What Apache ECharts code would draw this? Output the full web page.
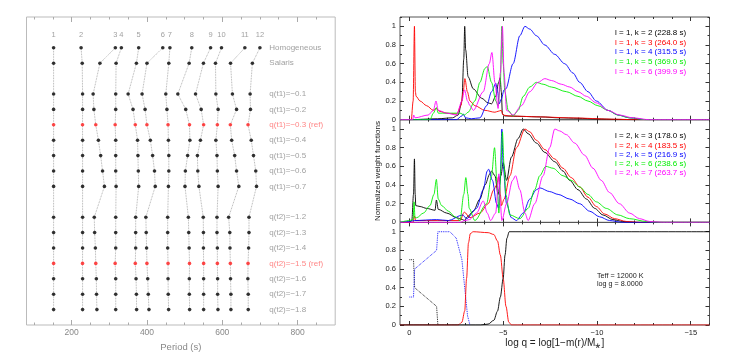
<!DOCTYPE html>
<html><head><meta charset="utf-8">
<script src="https://cdn.jsdelivr.net/npm/echarts@6/dist/echarts.min.js"></script>
<style>html,body{margin:0;padding:0;background:#fff}#c{width:734px;height:358px}</style>
</head><body><div id="c"></div>
<script>
// ---------------- LEFT PANEL DATA ----------------
const modeNumbers = ['1','2','3','4','5','6','7','8','9','10','11','12'];
const rowNames = ['Homogeneous','Salaris','q(t1)=−0.1','q(t1)=−0.2','q(t1)=−0.3 (ref)','q(t1)=−0.4','q(t1)=−0.5','q(t1)=−0.6','q(t1)=−0.7',
  'q(t2)=−1.2','q(t2)=−1.3','q(t2)=−1.4','q(t2)=−1.5 (ref)','q(t2)=−1.6','q(t2)=−1.7','q(t2)=−1.8'];
const rowPos = [0,1,3,4,5,6,7,8,9,11,12,13,14,15,16,17];
const refRowNames = ['q(t1)=−0.3 (ref)','q(t2)=−1.5 (ref)'];
const pHomogeneous = [152,225,316,332,378,442,461,519,569,598,660,700];
const pSalaris     = [152,228,275,318,372,400,458,512,550,582,622,680];
const pT1_01 = [152,229,257,317,350,387,450,482,529,583,627,674];
const pT1_02 = [152,229,259,317,363,395,453,503,544,589,638,675];
const pRef   = [152,228.8,264.0,315.5,369.0,399.9,456,513,550.5,587,621.5,668.5];
const pT1_04 = [152,229,271,317,375,409,457,514,542,583,625,677];
const pT1_05 = [152,229,277,317,376,415,458,508,534,586,633,683];
const pT1_06 = [152,229,282,317,377,420,458,502,535,587,638,689];
const pT1_07 = [152,229,287,318,378,422,457,501,538,589,644,691];
const pT2_12 = [152,229,260,317,370,397,455,510,549.5,586,617,671];
const pT2_13 = [152,229,261,317,370,398,455,511,550,586,620,671];
const pT2_14 = [152,229,263,317,370,399,455,512,550,587,620.5,670];
const pT2_16 = [152,229,265.5,317,371,402,456,512.5,550.5,587.7,622,668];
const pT2_17 = [152,229,266,317,372,403.5,456.5,512.5,550.5,587.7,623,669];
const pT2_18 = [152,229,267,317,372.5,405.3,457.5,513.3,550.5,588.6,623,669];
const rowPeriods = [pHomogeneous,pSalaris,pT1_01,pT1_02,pRef,pT1_04,pT1_05,pT1_06,pT1_07,pT2_12,pT2_13,pT2_14,pRef,pT2_16,pT2_17,pT2_18];
const periodTicksMajor = [200,400,600,800];
const periodTicksMinor = [100,150,250,300,350,450,500,550,650,700,750,850];
const modeLabelRow = -0.85;
const rowLabelPeriod = 725;

// ---------------- RIGHT PANEL DATA ----------------
const legendTop = ['l = 1, k = 2 (228.8 s)','l = 1, k = 3 (264.0 s)','l = 1, k = 4 (315.5 s)','l = 1, k = 5 (369.0 s)','l = 1, k = 6 (399.9 s)'];
const legendMid = ['l = 2, k = 3 (178.0 s)','l = 2, k = 4 (183.5 s)','l = 2, k = 5 (216.9 s)','l = 2, k = 6 (238.6 s)','l = 2, k = 7 (263.7 s)'];
const curveColors = ['#000000','#ff0000','#0000ff','#00ee00','#ff00ff'];
const wTop_k2 = [[0.5,0],[0,0],[-1.5,0.01],[-2.3,0.02],[-2.6,0.05],[-2.8,0.2],[-2.9,0.65],[-2.95,1.0],[-3.0,0.75],[-3.13,0.46],[-3.41,0.33],[-3.85,0.23],[-4.2,0.18],[-4.38,0.17],[-4.6,0.25],[-4.76,0.4],[-4.84,0.45],[-4.9,0.3],[-4.96,0.06],[-5.1,0.04],[-6,0.035],[-7,0.03],[-8,0.02],[-9,0.015],[-10,0.008],[-11,0.003],[-12,0],[-16,0]];
const wTop_k3 = [[0.5,0],[-0.1,0],[-0.2,0.2],[-0.27,1.0],[-0.32,0.3],[-0.36,0.25],[-0.57,0.2],[-0.92,0.15],[-1.28,0.1],[-1.44,0.12],[-1.6,0.09],[-1.99,0.07],[-2.52,0.06],[-2.75,0.15],[-2.87,0.3],[-2.96,0.44],[-3.09,0.3],[-3.23,0.2],[-3.49,0.15],[-4.03,0.1],[-4.56,0.08],[-4.73,0.09],[-4.9,0.1],[-5.0,0.05],[-5.3,0.04],[-7,0.03],[-8.5,0.02],[-11,0.005],[-12,0],[-16,0]];
const wTop_k4 = [[0.5,0],[-2.5,0],[-2.8,0.04],[-2.87,0.06],[-3.0,0.02],[-3.3,0.01],[-3.76,0.02],[-4.12,0.15],[-4.38,0.3],[-4.61,0.39],[-4.7,0.3],[-4.79,0.17],[-4.9,0.22],[-5.05,0.32],[-5.14,0.33],[-5.53,0.6],[-5.89,0.9],[-6.16,1.0],[-6.42,0.97],[-6.77,0.9],[-7.22,0.8],[-7.75,0.7],[-8.28,0.6],[-8.72,0.5],[-9.08,0.4],[-9.52,0.3],[-9.97,0.2],[-10.59,0.1],[-11.12,0.05],[-11.74,0.02],[-12.62,0],[-16,0]];
const wTop_k5 = [[0.5,0],[-1.1,0],[-1.28,0.07],[-1.44,0.13],[-1.54,0.07],[-2.0,0.07],[-2.7,0.07],[-2.93,0.05],[-3.13,0.08],[-3.49,0.2],[-3.76,0.4],[-4.03,0.55],[-4.15,0.57],[-4.38,0.4],[-4.61,0.2],[-4.73,0.15],[-4.85,0.4],[-4.93,1.0],[-5.0,0.6],[-5.09,0.3],[-5.27,0.1],[-5.53,0.04],[-5.8,0.1],[-6.07,0.25],[-6.42,0.35],[-6.77,0.4],[-7.13,0.38],[-7.57,0.35],[-8.37,0.3],[-8.99,0.25],[-9.52,0.2],[-10.05,0.15],[-10.59,0.1],[-11.12,0.05],[-11.74,0.02],[-12.62,0],[-16,0]];
const wTop_k6 = [[0.5,0],[-0.18,0],[-0.23,0.05],[-0.3,0.02],[-1.0,0.05],[-1.28,0.1],[-1.42,0.2],[-1.54,0.1],[-1.99,0.07],[-2.52,0.05],[-2.8,0.2],[-2.94,0.32],[-3.1,0.2],[-3.23,0.15],[-3.41,0.1],[-3.94,0.3],[-4.26,0.6],[-4.4,0.72],[-4.56,0.4],[-4.73,0.12],[-4.85,0.5],[-4.96,1.0],[-5.05,0.5],[-5.18,0.1],[-5.53,0.05],[-5.97,0.15],[-6.42,0.3],[-6.86,0.4],[-7.22,0.44],[-7.57,0.42],[-8.1,0.38],[-8.55,0.35],[-8.99,0.3],[-9.44,0.25],[-9.97,0.18],[-10.59,0.1],[-11.2,0.05],[-11.91,0.02],[-12.8,0],[-16,0]];
const wMid_k3 = [[0.5,0],[0,0],[-0.13,0.02],[-0.22,0.3],[-0.27,0.68],[-0.31,0.3],[-0.34,0.18],[-0.57,0.17],[-0.92,0.15],[-1.37,0.13],[-1.44,0.24],[-1.54,0.14],[-1.99,0.1],[-2.52,0.05],[-2.84,0.03],[-2.93,0.02],[-3.09,0.06],[-3.41,0.12],[-3.76,0.25],[-4.03,0.4],[-4.29,0.52],[-4.38,0.55],[-4.56,0.5],[-4.73,0.3],[-4.88,0.5],[-5.0,0.64],[-5.18,0.45],[-5.44,0.7],[-5.8,0.9],[-6.07,1.0],[-6.33,0.95],[-6.77,0.85],[-7.22,0.75],[-7.75,0.65],[-8.19,0.55],[-8.55,0.45],[-8.99,0.35],[-9.44,0.25],[-9.88,0.15],[-10.32,0.08],[-10.85,0.03],[-11.38,0.01],[-12.09,0],[-16,0]];
const wMid_k4 = [[0.5,0],[-0.2,0],[-0.27,0.07],[-0.34,0.02],[-2.7,0.02],[-2.93,0.11],[-3.23,0.05],[-3.76,0.1],[-4.2,0.2],[-4.5,0.35],[-4.65,0.4],[-4.76,0.49],[-4.85,0.3],[-4.91,0.18],[-5.05,0.25],[-5.36,0.5],[-5.71,0.8],[-6.16,1.0],[-6.42,0.97],[-6.77,0.88],[-7.22,0.78],[-7.75,0.68],[-8.19,0.58],[-8.63,0.48],[-9.08,0.38],[-9.52,0.27],[-9.97,0.17],[-10.41,0.09],[-10.94,0.04],[-11.56,0.01],[-12.27,0],[-16,0]];
const wMid_k5 = [[0.5,0],[0,0.01],[-0.27,0.02],[-1.45,0.03],[-2.08,0.02],[-2.84,0.08],[-3.05,0.04],[-3.58,0.15],[-3.94,0.35],[-4.15,0.55],[-4.22,0.57],[-4.43,0.45],[-4.65,0.2],[-4.76,0.15],[-4.85,0.5],[-4.93,1.0],[-5.0,0.6],[-5.18,0.2],[-5.44,0.05],[-5.71,0.02],[-6.07,0.1],[-6.42,0.25],[-6.77,0.35],[-6.95,0.37],[-7.48,0.33],[-7.93,0.3],[-8.55,0.25],[-9.08,0.2],[-9.61,0.12],[-10.14,0.06],[-10.67,0.02],[-11.38,0],[-16,0]];
const wMid_k6 = [[0.5,0],[0,0.02],[-0.2,0.03],[-0.25,0.22],[-0.3,0.05],[-0.39,0.05],[-0.75,0.1],[-1.1,0.18],[-1.31,0.3],[-1.44,0.46],[-1.54,0.25],[-1.72,0.18],[-2.08,0.12],[-2.43,0.06],[-2.7,0.02],[-2.9,0.3],[-3.01,0.48],[-3.12,0.3],[-3.19,0.15],[-3.49,0.02],[-4.12,0.2],[-4.38,0.5],[-4.54,0.8],[-4.68,0.4],[-4.77,0.1],[-4.88,0.6],[-4.96,0.97],[-5.05,0.6],[-5.14,0.3],[-5.36,0.08],[-5.89,0.04],[-6.33,0.15],[-6.68,0.35],[-6.95,0.5],[-7.27,0.6],[-7.66,0.58],[-8.19,0.5],[-8.63,0.45],[-9.08,0.38],[-9.52,0.3],[-9.97,0.22],[-10.5,0.15],[-11.12,0.08],[-11.74,0.04],[-12.62,0.01],[-13.33,0],[-16,0]];
const wMid_k7 = [[0.5,0],[-2.7,0],[-2.96,0.02],[-3.2,0.03],[-3.58,0.1],[-3.94,0.23],[-4.15,0.1],[-4.33,0.02],[-4.6,0.1],[-4.77,0.52],[-4.85,0.2],[-4.93,0.02],[-5.18,0.2],[-5.5,0.45],[-5.66,0.5],[-5.89,0.35],[-6.16,0.1],[-6.33,0.02],[-6.68,0.2],[-7.13,0.5],[-7.48,0.8],[-7.75,1.0],[-8.01,0.98],[-8.37,0.94],[-8.81,0.85],[-9.34,0.72],[-9.79,0.58],[-10.23,0.45],[-10.67,0.32],[-11.2,0.2],[-11.74,0.1],[-12.27,0.04],[-12.8,0.01],[-13.51,0],[-16,0]];
const xC  = [[0,0.7],[-0.22,0.7],[-0.28,0.4],[-1.45,0.2],[-1.52,0]];
const xO  = [[0,0.3],[-0.22,0.3],[-0.28,0.6],[-1.45,0.8],[-1.52,1.0],[-2.16,1.0],[-2.5,0.93],[-2.8,0.7],[-2.95,0.4],[-3.1,0.1],[-3.23,0]];
const xHe = [[0.5,0],[-2.6,0],[-2.8,0.03],[-2.95,0.15],[-3.05,0.5],[-3.15,0.88],[-3.25,0.98],[-3.4,1.0],[-4.2,0.99],[-4.5,0.97],[-4.7,0.9],[-4.85,0.75],[-5.0,0.5],[-5.15,0.2],[-5.3,0.03],[-5.45,0],[-16,0]];
const xH  = [[0.5,0],[-3.8,0],[-4.2,0.01],[-4.5,0.05],[-4.7,0.15],[-4.85,0.3],[-5.0,0.5],[-5.1,0.75],[-5.2,0.93],[-5.32,1.0],[-16,1.0]];
const starText = ['Teff = 12000 K','log g = 8.0000'];
const logqTicksMajor = [0,-5,-10,-15];
const logqTicksMinor = [-1,-2,-3,-4,-6,-7,-8,-9,-11,-12,-13,-14,-16];
const wTicksMajor = [0,0.2,0.4,0.6,0.8,1];
const wTicksMinor = [0.1,0.3,0.5,0.7,0.9,1.1];

// ---------------- BUILD ----------------
const LG = '#aaaaaa', LT = '#888888', RG = '#333333', RT = '#222222';
const grids = [
  {left:26.5, top:17, width:308.7, height:308, show:true, borderColor:'#bbbbbb', borderWidth:1, backgroundColor:'transparent'},
  {left:400, top:17, width:309.5, height:102.7, show:true, borderColor:'#555', borderWidth:1},
  {left:400, top:119.7, width:309.5, height:102.7, show:true, borderColor:'#555', borderWidth:1},
  {left:400, top:222.4, width:309.5, height:102.6, show:true, borderColor:'#555', borderWidth:1}
];
function ax(gi, pos, min, max, inv, ticks, len, col, label, extra) {
  return Object.assign({
    type:'value', gridIndex:gi, position:pos, min:min, max:max, inverse:inv,
    axisLine:{show:false, onZero:false}, splitLine:{show:false},
    axisTick:{show:true, inside:true, length:len, customValues:ticks, lineStyle:{color:col, width:1}},
    axisLabel: label ? Object.assign({show:true, customValues:ticks}, label) : {show:false}
  }, extra || {});
}
const xAxes = [
  ax(0,'bottom',80,900,false,periodTicksMajor,5,LG,{color:LT, fontSize:8.5, fontFamily:'Liberation Sans', margin:3},
     {name:'Period (s)', nameLocation:'middle', nameGap:13, nameTextStyle:{color:LT, fontSize:9.5, fontFamily:'Liberation Sans'}}),
  ax(0,'bottom',80,900,false,periodTicksMinor,2.5,LG,null),
  ax(0,'top',80,900,false,periodTicksMajor,5,LG,null),
  ax(0,'top',80,900,false,periodTicksMinor,2.5,LG,null)
];
for (let g=1; g<=3; g++) {
  const lab = g===3 ? {color:RT, fontSize:7.5, fontFamily:'Liberation Sans', margin:4,
      formatter:v=> v===0?'0':'−'+Math.abs(v)} : null;
  const ext = g===3 ? {name:'log q = log[1−m(r)/M⁎]', nameLocation:'middle', nameGap:12,
      nameTextStyle:{color:RT, fontSize:10, fontFamily:'Liberation Sans'}} : {};
  xAxes.push(ax(g,'bottom',-16,0.5,true,logqTicksMajor,4,RG,lab,ext));
  xAxes.push(ax(g,'bottom',-16,0.5,true,logqTicksMinor,2,RG,null));
  xAxes.push(ax(g,'top',-16,0.5,true,logqTicksMajor,4,RG,null));
  xAxes.push(ax(g,'top',-16,0.5,true,logqTicksMinor,2,RG,null));
}
const yAxes = [{type:'value', gridIndex:0, min:-2, max:18, inverse:true, show:false}];
for (let g=1; g<=3; g++) {
  const lab = {color:RT, fontSize:7.5, fontFamily:'Liberation Sans', margin:4,
      formatter:v=> v===0?'0':(v===1?'1':v.toFixed(1))};
  const ext = g===2 ? {name:'Normalized weight functions', nameLocation:'middle', nameGap:17,
      nameTextStyle:{color:RT, fontSize:8, fontFamily:'Liberation Sans'}} : {};
  yAxes.push(ax(g,'left',0,1.1,false,wTicksMajor,4,RG,lab,ext));
  yAxes.push(ax(g,'left',0,1.1,false,wTicksMinor,2,RG,null));
  yAxes.push(ax(g,'right',0,1.1,false,wTicksMajor,4,RG,null));
  yAxes.push(ax(g,'right',0,1.1,false,wTicksMinor,2,RG,null));
}

const series = [];
modeNumbers.forEach((m,k)=>{
  series.push({type:'line', xAxisIndex:0, yAxisIndex:0, silent:true, symbol:'none', z:1,
    lineStyle:{type:'dotted', width:0.8, color:'#9a9a9a'},
    data: rowPeriods.map((p,i)=>[p[k], rowPos[i]])});
});
const blackDots = [], redDots = [];
rowPeriods.forEach((p,i)=>{
  const isRef = refRowNames.indexOf(rowNames[i])>=0;
  p.forEach(v=> (isRef?redDots:blackDots).push([v,rowPos[i]]));
});
series.push({type:'scatter', xAxisIndex:0, yAxisIndex:0, symbolSize:3.6, z:3, itemStyle:{color:'#000'}, data:blackDots, silent:true});
series.push({type:'scatter', xAxisIndex:0, yAxisIndex:0, symbolSize:3.6, z:3, itemStyle:{color:'#ff1a1a'}, data:redDots, silent:true});
series.push({type:'scatter', xAxisIndex:0, yAxisIndex:0, symbolSize:0, silent:true,
  data: modeNumbers.map((m,k)=>({name:m, value:[pHomogeneous[k], modeLabelRow]})),
  label:{show:true, position:'inside', formatter:'{b}', color:LT, fontSize:7.5, fontFamily:'Liberation Sans'}});
series.push({type:'scatter', xAxisIndex:0, yAxisIndex:0, symbolSize:0, silent:true,
  data: rowNames.map((n,i)=>({name:n, value:[rowLabelPeriod,rowPos[i]],
     label:{color: refRowNames.indexOf(n)>=0 ? '#ff6666' : LT}})),
  label:{show:true, position:'right', distance:0, formatter:'{b}', fontSize:8, fontFamily:'Liberation Sans'}});

function curve(data, color, g, dotted, smooth) {
  series.push({type:'line', xAxisIndex:4+(g-1)*4, yAxisIndex:1+(g-1)*4, data:data, showSymbol:false, symbol:'none',
    smooth: smooth, smoothMonotone:'x', silent:true, clip:true,
    lineStyle:{color:color, width:0.9, type: dotted?'dotted':'solid'}});
}
[wTop_k2,wTop_k3,wTop_k4,wTop_k5,wTop_k6].forEach((d,i)=>curve(d,curveColors[i],1,false,0.3));
[wMid_k3,wMid_k4,wMid_k5,wMid_k6,wMid_k7].forEach((d,i)=>curve(d,curveColors[i],2,false,0.3));
curve(xC,'#000',3,true,false);
curve(xO,'#0000ff',3,true,false);
curve(xHe,'#ff0000',3,false,0.3);
curve(xH,'#000',3,false,0.3);

const graphics = [];
const legFont = '8px "Liberation Sans", sans-serif';
legendTop.forEach((t,i)=>graphics.push({type:'text', left:615, top:29+i*9.6,
  style:{text:t, fill:curveColors[i], font:legFont}}));
legendMid.forEach((t,i)=>graphics.push({type:'text', left:615, top:132+i*9.3,
  style:{text:t, fill:curveColors[i], font:legFont}}));
starText.forEach((t,i)=>graphics.push({type:'text', left:597, top:272.5+i*7.6,
  style:{text:t, fill:RT, font:'7.2px "Liberation Sans", sans-serif'}}));

const chart = echarts.init(document.getElementById('c'), null, {renderer:'canvas'});
chart.setOption({animation:false, backgroundColor:'#fff', grid:grids, xAxis:xAxes, yAxis:yAxes, series:series, graphic:graphics});
</script></body></html>
